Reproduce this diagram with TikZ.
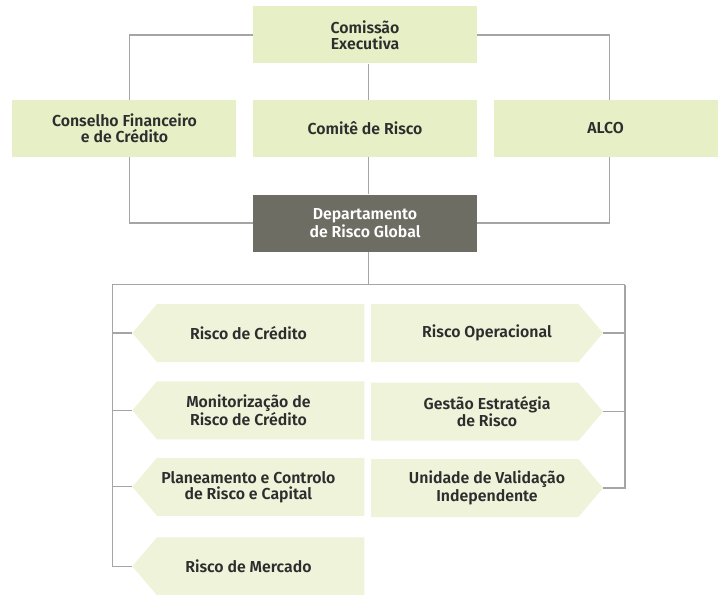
\documentclass[tikz,border=0pt]{standalone}
\usepackage{fontspec}
\setmainfont{Fira Sans}[BoldFont={Fira Sans SemiBold}]
\usetikzlibrary{positioning}
\definecolor{tc}{HTML}{E6EFC6}
\definecolor{ac}{HTML}{EEF3DA}
\definecolor{dc}{HTML}{6E6D64}
\definecolor{lc}{HTML}{A5A5A5}
\definecolor{txc}{HTML}{2D2D2D}

\begin{document}
\begin{tikzpicture}[
    x=0.75pt, y=-0.75pt,
    node distance=27pt and 12pt,
    box/.style={minimum width=168pt, minimum height=42.75pt, inner sep=2pt,
                align=center, font=\fontsize{11.9}{12}\selectfont\bfseries, text=txc},
    topbox/.style={box, fill=tc},
    dept/.style={box, fill=dc, text=white},
    larr/.style={box, minimum width=174pt, minimum height=43.5pt,
                 path picture={\fill[ac] (path picture bounding box.north east)
                   -- (path picture bounding box.south east)
                   -- ([xshift=18.4pt]path picture bounding box.south west)
                   -- (path picture bounding box.west)
                   -- ([xshift=18.4pt]path picture bounding box.north west) -- cycle;}},
    rarr/.style={box, minimum width=174pt, minimum height=43.5pt,
                 path picture={\fill[ac] (path picture bounding box.north west)
                   -- ([xshift=-18.4pt]path picture bounding box.north east)
                   -- (path picture bounding box.east)
                   -- ([xshift=-18.4pt]path picture bounding box.south east)
                   -- (path picture bounding box.south west) -- cycle;}},
    ln/.style={draw=lc, line width=0.9pt}
]
\useasboundingbox (0,0) rectangle (720,594);

\node[topbox] (comite) at (365,128.5) {Comitê de Risco};
\node[topbox, left=12pt of comite]  (cons) {Conselho Financeiro\\e de Crédito};
\node[topbox, right=12pt of comite] (alco) {ALCO};
\node[topbox, above=of comite]      (com)  {Comissão\\Executiva};
\node[dept, below=27.75pt of comite] (dep) {Departamento\\de Risco Global};

\node[larr] (rc)  at (248.4,333)   {Risco de Crédito};
\node[larr] (mon) at (248.4,410.3) {Monitorização de\\Risco de Crédito};
\node[larr] (pla) at (248.4,486.8) {Planeamento e Controlo\\de Risco e Capital};
\node[larr] (mer) at (248.4,566.3) {Risco de Mercado};
\node[rarr] (op)  at (487,333)     {Risco Operacional};
\node[rarr] (ges) at (487,411.7)   {Gestão Estratégia\\de Risco};
\node[rarr] (uv)  at (487,488)     {Unidade de Validação\\Independente};

% upper tree
\draw[ln] (com.west) -| ([xshift=4pt]cons.north);
\draw[ln] (com.east) -| ([xshift=3pt]alco.north);
\draw[ln] ([xshift=2.5pt]com.south) -- ([xshift=2.5pt]comite.north);
\draw[ln] ([xshift=2.5pt]comite.south) -- ([xshift=2.5pt]dep.north);
\draw[ln] ([xshift=4pt]cons.south) |- (dep.west);
\draw[ln] ([xshift=3pt]alco.south) |- (dep.east);

% lower bus
\coordinate (busL) at (112.3,284.5);
\coordinate (busR) at (625,284.5);
\draw[ln] ([xshift=2.5pt]dep.south) -- ([xshift=2.5pt]dep.south |- busL);
\draw[ln] (busL) -- (busR);
\draw[ln] (busL) |- (mer.west);
\draw[ln] (busL |- rc.west)  -- (rc.west);
\draw[ln] (busL |- mon.west) -- (mon.west);
\draw[ln] (busL |- pla.west) -- (pla.west);
\draw[ln] (busR) |- (uv.east);
\draw[ln] (busR |- op.east)  -- (op.east);
\draw[ln] (busR |- ges.east) -- (ges.east);
\end{tikzpicture}
\end{document}
